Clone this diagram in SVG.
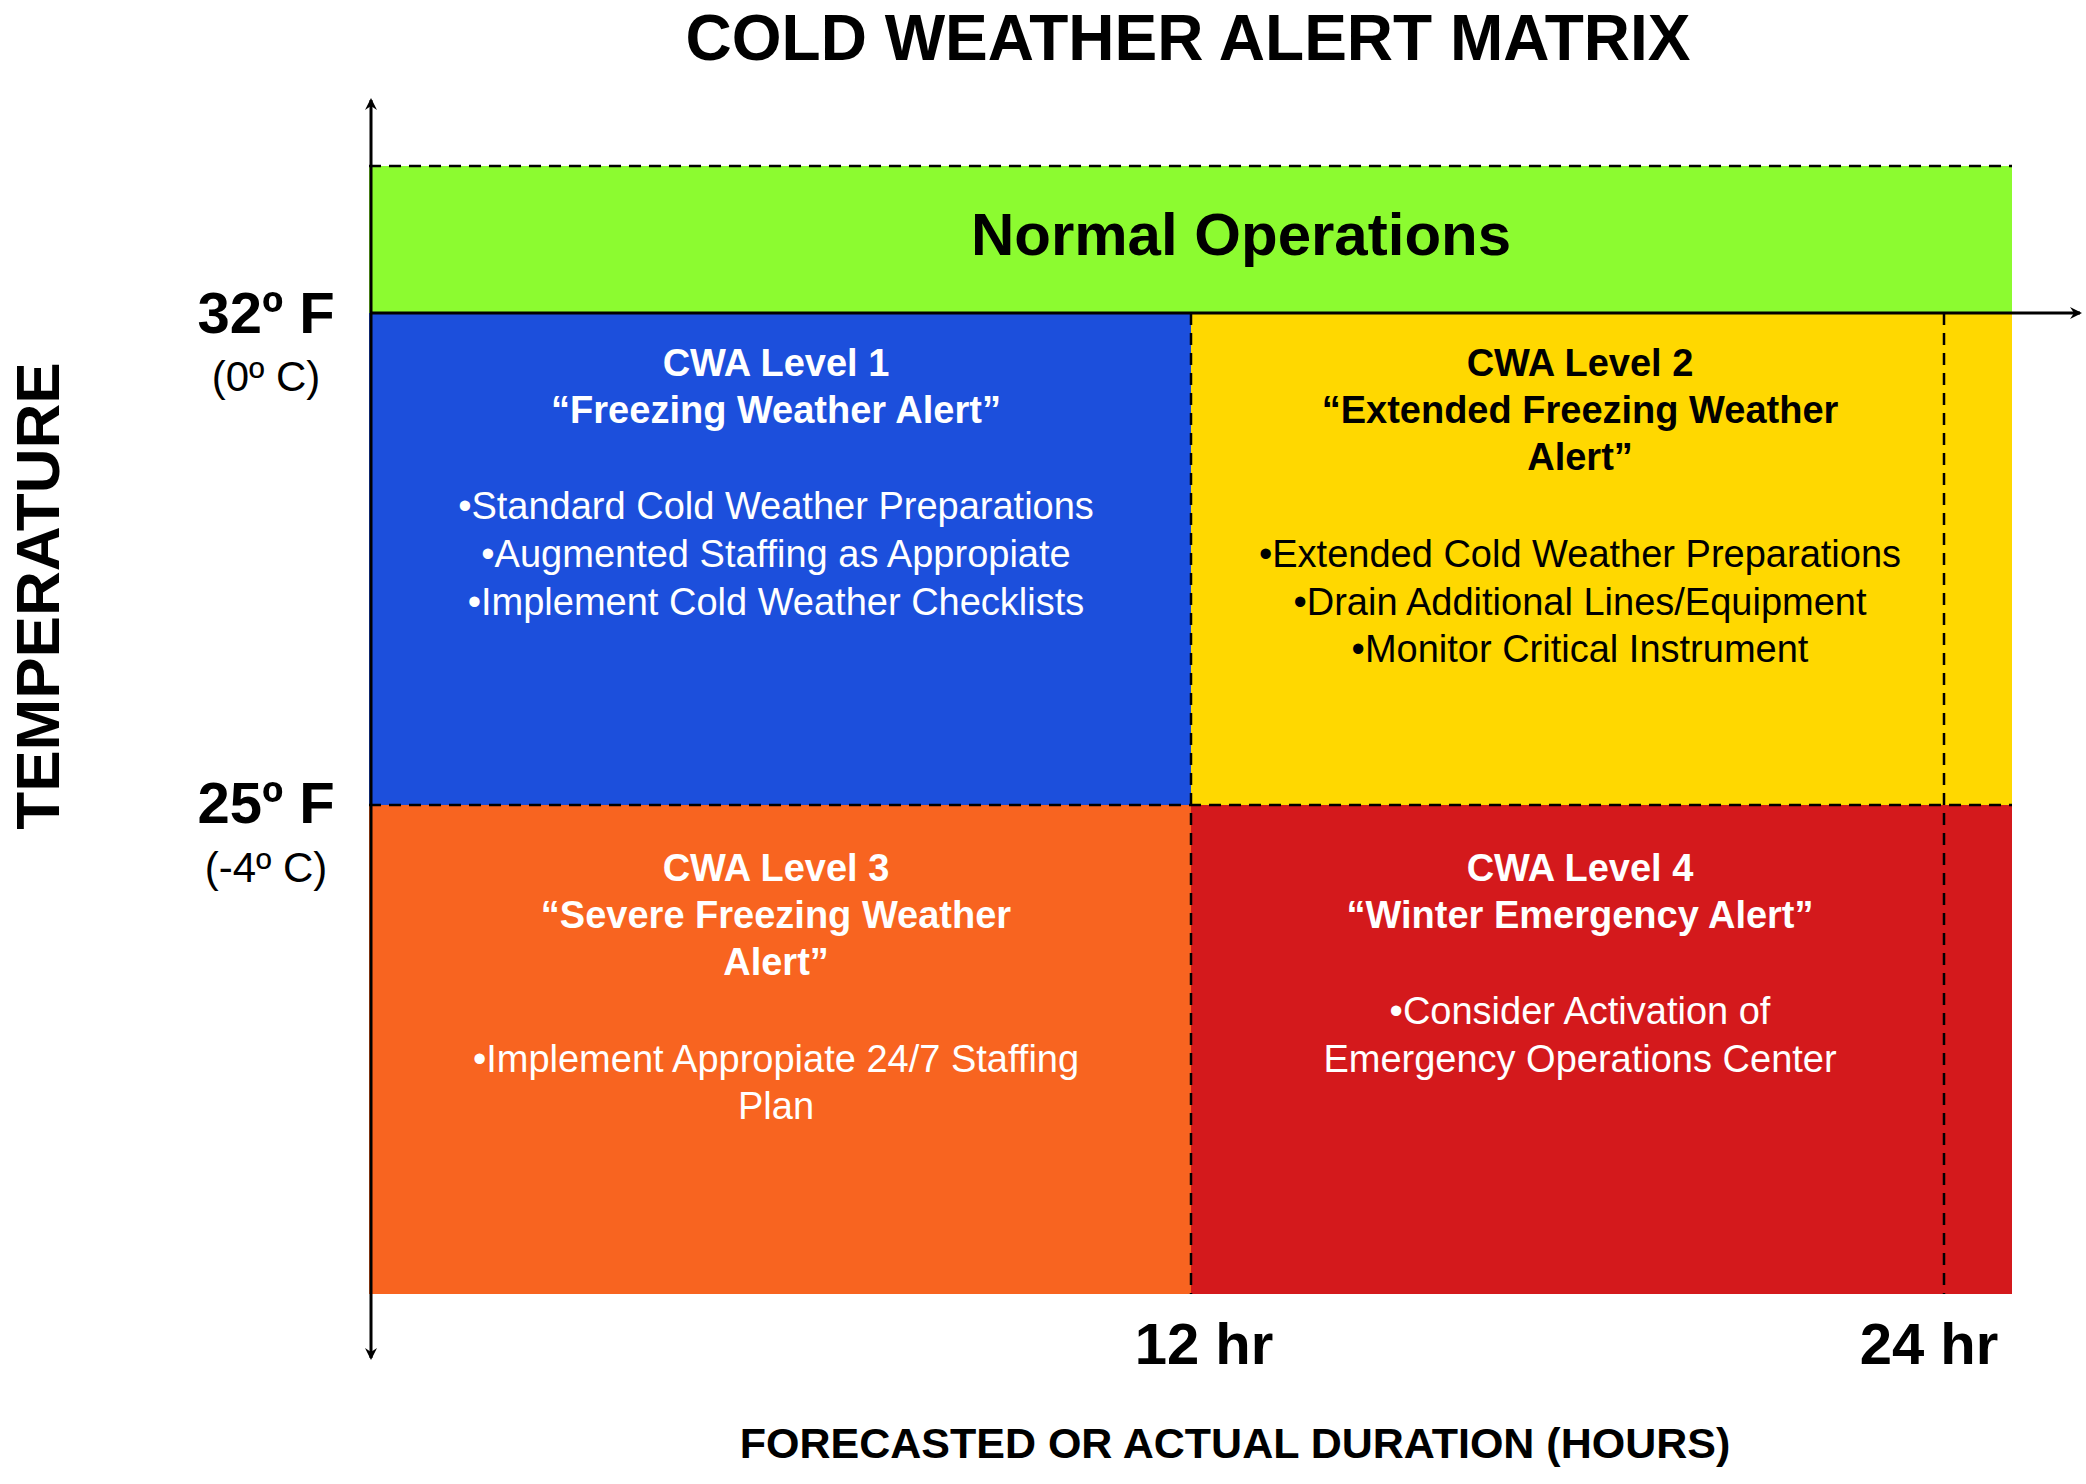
<svg xmlns="http://www.w3.org/2000/svg" width="2086" height="1484" viewBox="0 0 2086 1484">
<style>
text{font-family:"Liberation Sans",Arial,sans-serif;text-anchor:middle}
.b{font-weight:bold}
.h{font-size:38px;font-weight:bold}
.t{font-size:38px}
.w{fill:#fff}
.k{fill:#000}
.d{stroke:#000;stroke-width:2.5;stroke-dasharray:12 8;fill:none}
.ax{stroke:#000;stroke-width:3;fill:none}
</style>
<defs>
<marker id="ar" markerWidth="12" markerHeight="12" refX="10" refY="6" orient="auto" markerUnits="userSpaceOnUse" viewBox="0 0 12 12">
<path d="M0,0 L12,6 L0,12 L4,6 Z" fill="#000"/>
</marker>
</defs>
<rect width="2086" height="1484" fill="#fff"/>
<text x="1188" y="60" class="b" font-size="64">COLD WEATHER ALERT MATRIX</text>
<g id="normal">
<rect x="369" y="166" width="1643" height="147" fill="#8cfb30"/>
<text x="1241" y="255" class="b" font-size="60">Normal Operations</text>
</g>
<g id="level1">
<rect x="369" y="313" width="822" height="492" fill="#1c4fdc"/>
<text class="h w" x="776" y="376">CWA Level 1</text>
<text class="h w" x="776" y="423">“Freezing Weather Alert”</text>
<text class="t w" x="776" y="519">•Standard Cold Weather Preparations</text>
<text class="t w" x="776" y="567">•Augmented Staffing as Appropiate</text>
<text class="t w" x="776" y="615">•Implement Cold Weather Checklists</text>
</g>
<g id="level2">
<rect x="1191" y="313" width="821" height="492" fill="#ffd800"/>
<text class="h k" x="1580" y="376">CWA Level 2</text>
<text class="h k" x="1580" y="423">“Extended Freezing Weather</text>
<text class="h k" x="1580" y="470">Alert”</text>
<text class="t k" x="1580" y="567">•Extended Cold Weather Preparations</text>
<text class="t k" x="1580" y="615">•Drain Additional Lines/Equipment</text>
<text class="t k" x="1580" y="662">•Monitor Critical Instrument</text>
</g>
<g id="level3">
<rect x="369" y="805" width="822" height="489" fill="#f86420"/>
<text class="h w" x="776" y="881">CWA Level 3</text>
<text class="h w" x="776" y="928">“Severe Freezing Weather</text>
<text class="h w" x="776" y="975">Alert”</text>
<text class="t w" x="776" y="1072">•Implement Appropiate 24/7 Staffing</text>
<text class="t w" x="776" y="1119">Plan</text>
</g>
<g id="level4">
<rect x="1191" y="805" width="821" height="489" fill="#d4191c"/>
<text class="h w" x="1580" y="881">CWA Level 4</text>
<text class="h w" x="1580" y="928">“Winter Emergency Alert”</text>
<text class="t w" x="1580" y="1024">•Consider Activation of</text>
<text class="t w" x="1580" y="1072">Emergency Operations Center</text>
</g>
<g id="connectors">
<line class="d" x1="369" y1="166" x2="2012" y2="166"/>
<line class="d" x1="369" y1="805" x2="2012" y2="805"/>
<line class="d" x1="1191" y1="313" x2="1191" y2="1294"/>
<line class="d" x1="1944" y1="313" x2="1944" y2="1294" stroke-dasharray="30 8 4 8"/>
<line class="ax" x1="371" y1="313" x2="2080" y2="313" marker-end="url(#ar)"/>
<line class="ax" x1="371" y1="700" x2="371" y2="100" marker-end="url(#ar)"/>
<line class="ax" x1="371" y1="700" x2="371" y2="1358" marker-end="url(#ar)"/>
</g>
<g id="labels">
<text class="b" x="266" y="333" font-size="58">32º F</text>
<text x="266" y="391" font-size="42">(0º C)</text>
<text class="b" x="266" y="823" font-size="58">25º F</text>
<text x="266" y="882" font-size="42">(-4º C)</text>
<text class="b" font-size="62" transform="translate(59,596) rotate(-90)">TEMPERATURE</text>
<text class="b" x="1204" y="1364" font-size="58">12 hr</text>
<text class="b" x="1929" y="1364" font-size="58">24 hr</text>
<text class="b" x="1235" y="1458" font-size="43">FORECASTED OR ACTUAL DURATION (HOURS)</text>
</g>
</svg>
